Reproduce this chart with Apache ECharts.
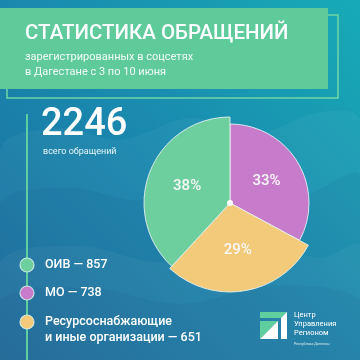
<!DOCTYPE html>
<html>
<head>
<meta charset="utf-8">
<script src="https://cdn.jsdelivr.net/npm/echarts@6/dist/echarts.min.js"></script>
<style>
  html, body { margin: 0; padding: 0; }
  #main { width: 360px; height: 360px; }
</style>
</head>
<body>
<div id="main"></div>
<script>
// data
const categories = ['МО', 'Ресурсоснабжающие\nи иные организации', 'ОИВ'];
const values = [738, 651, 857];
const sliceColors = ['#c77ccb', '#f3ca79', '#6dcf9d'];
const sliceRadius = [79, 89, 86];
const legendOrder = [2, 0, 1]; // ОИВ, МО, Ресурс...
const total = 2246;

const titleText = 'СТАТИСТИКА ОБРАЩЕНИЙ';
const subtitleLines = ['зарегистрированных в соцсетях', 'в Дагестане с 3 по 10 июня'];

const font = 'Roboto, "Noto Sans", sans-serif';
const center = [230, 203];

const chart = echarts.init(document.getElementById('main'));

// one pie per slice so each slice can get its own radius
const series = sliceRadius.map(function (r, k) {
  return {
    type: 'pie',
    center: center,
    radius: [0, r],
    startAngle: 90,
    clockwise: true,
    silent: true,
    animation: false,
    labelLine: { show: false },
    data: categories.map(function (name, i) {
      const on = i === k;
      return {
        name: name,
        value: values[i],
        itemStyle: on
          ? { color: sliceColors[i], borderColor: 'rgba(235,245,245,0.85)', borderWidth: 1 }
          : { color: 'transparent', borderWidth: 0 },
        label: on
          ? { show: true, position: 'inside', formatter: function (p) { return Math.round(p.percent) + '%'; },
              color: '#f7f7f7', fontSize: 15, fontWeight: 500, fontFamily: font }
          : { show: false }
      };
    })
  };
});

// legend (drawn as graphic so the two-line item lines up like the original)
const legendY = [265, 293, 322];
const legendGraphics = [];
legendOrder.forEach(function (idx, j) {
  legendGraphics.push({
    type: 'circle',
    shape: { cx: 27, cy: legendY[j], r: 7 },
    style: { fill: sliceColors[idx], stroke: 'rgba(220,245,235,0.8)', lineWidth: 1.2 },
    z: 5
  });
  const label = categories[idx].split('\n');
  label[label.length - 1] += ' — ' + values[idx];
  label.forEach(function (line, n) {
    legendGraphics.push({
      type: 'text',
      x: 45, y: legendY[j] + n * 15.5,
      style: { text: line, fill: '#ffffff', font: '500 12.5px ' + font, verticalAlign: 'middle' },
      z: 5
    });
  });
});

const waves = [
  [[0, 150], [60, 128], [120, 140], [190, 118], [260, 132], [320, 112], [360, 120], [360, 360], [0, 360]],
  [[0, 205], [70, 188], [140, 200], [220, 178], [300, 196], [360, 176], [360, 360], [0, 360]],
  [[0, 262], [80, 246], [160, 262], [240, 240], [320, 258], [360, 246], [360, 360], [0, 360]],
  [[0, 300], [90, 288], [180, 304], [270, 286], [360, 300], [360, 360], [0, 360]]
];

const option = {
  backgroundColor: '#1a7fa8',
  graphic: [
    {
      type: 'rect', shape: { x: 0, y: 0, width: 360, height: 360 }, z: -10,
      style: {
        fill: new echarts.graphic.LinearGradient(1, 0, 0, 1, [
          { offset: 0, color: '#17abb6' },
          { offset: 0.5, color: '#1a88ae' },
          { offset: 1, color: '#1a6b9c' }
        ])
      }
    }
  ].concat(waves.map(function (pts, i) {
    return {
      type: 'polygon', shape: { points: pts, smooth: 0.35 }, z: -9,
      style: { fill: i % 2 ? 'rgba(10,60,120,0.07)' : 'rgba(255,255,255,0.04)' }
    };
  })).concat([
    // banner
    { type: 'rect', shape: { x: 7, y: 15, width: 331, height: 83 }, z: 1,
      style: { fill: 'none', stroke: '#6fd6a4', lineWidth: 1.5 } },
    { type: 'rect', shape: { x: 0, y: 8, width: 328, height: 81 }, z: 2,
      style: { fill: '#5fcb9b' } },
    { type: 'text', x: 25, y: 34, z: 3,
      style: { text: titleText, fill: '#ffffff', font: '500 20.5px ' + font, verticalAlign: 'middle' } },
    { type: 'text', x: 25, y: 57, z: 3,
      style: { text: subtitleLines[0], fill: '#f2fbf6', font: '11px ' + font, verticalAlign: 'middle' } },
    { type: 'text', x: 25, y: 72, z: 3,
      style: { text: subtitleLines[1], fill: '#f2fbf6', font: '11px ' + font, verticalAlign: 'middle' } },
    // timeline
    { type: 'line', shape: { x1: 27, y1: 114, x2: 27, y2: 360 }, z: 4,
      style: { stroke: '#5fcf9f', lineWidth: 2 } },
    // total
    { type: 'text', x: 41, y: 125, z: 3,
      style: { text: String(total), fill: '#ffffff', font: '500 38px ' + font, verticalAlign: 'middle' } },
    { type: 'text', x: 43, y: 152, z: 3,
      style: { text: 'всего обращений', fill: '#e6f4f6', font: '9px ' + font, verticalAlign: 'middle' } },
    // pie centre dot
    { type: 'circle', shape: { cx: center[0], cy: center[1], r: 3 }, z: 100,
      style: { fill: '#ffffff' } },
    // logo
    { type: 'polygon', z: 3, shape: { points: [[260, 312], [287, 312], [281, 318], [260, 318]] },
      style: { fill: '#5fcf9f' } },
    { type: 'polygon', z: 3, shape: { points: [[281, 318], [287, 312], [287, 339], [281, 339]] },
      style: { fill: '#ffffff' } },
    { type: 'polygon', z: 3, shape: { points: [[260, 321], [278, 321], [260, 339]] },
      style: { fill: '#5fcf9f' } },
    { type: 'polygon', z: 3, shape: { points: [[278, 321], [278, 339], [260, 339]] },
      style: { fill: '#ffffff' } },
    { type: 'text', x: 294, y: 315, z: 3,
      style: { text: 'Центр', fill: '#ffffff', font: '7.5px ' + font, verticalAlign: 'middle' } },
    { type: 'text', x: 294, y: 324, z: 3,
      style: { text: 'Управления', fill: '#ffffff', font: '7.5px ' + font, verticalAlign: 'middle' } },
    { type: 'text', x: 294, y: 333, z: 3,
      style: { text: 'Регионом', fill: '#ffffff', font: '7.5px ' + font, verticalAlign: 'middle' } },
    { type: 'text', x: 294, y: 344, z: 3,
      style: { text: 'Республика Дагестан', fill: '#d8eef2', font: '3.5px ' + font, verticalAlign: 'middle' } }
  ]).concat(legendGraphics),
  series: series
};

chart.setOption(option);
</script>
</body>
</html>
